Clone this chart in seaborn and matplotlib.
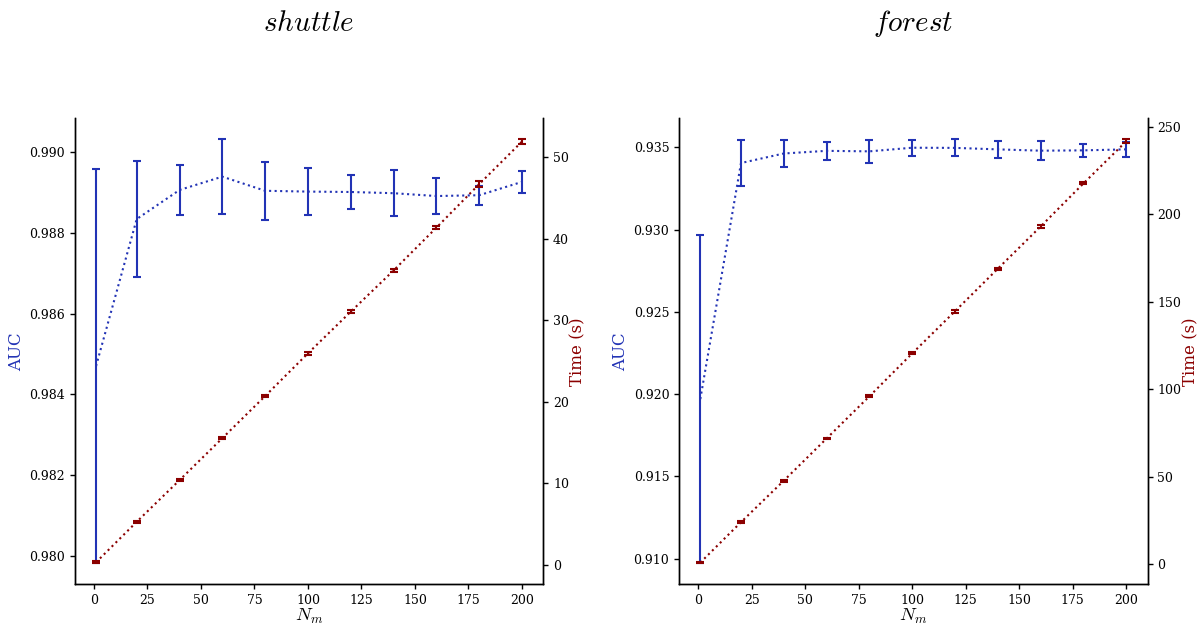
import matplotlib
matplotlib.use("Agg")
import matplotlib.pyplot as plt
import seaborn as sns
import pandas as pd

# Ensemble size sweep
n_models = [1, 20, 40, 60, 80, 100, 120, 140, 160, 180, 200]

# shuttle: AUC (mean, std) and training time in seconds (mean, std)
shuttle_auc = [0.98470, 0.98834, 0.98906, 0.98939, 0.98904, 0.98902,
               0.98901, 0.98898, 0.98891, 0.98893, 0.98926]
shuttle_auc_err = [0.00488, 0.00144, 0.00061, 0.00092, 0.00072, 0.00058,
                   0.00043, 0.00057, 0.00045, 0.00024, 0.00028]
shuttle_time = [0.3, 5.27, 10.38, 15.53, 20.7, 25.94, 31.05, 36.11,
                41.36, 46.7, 51.93]
shuttle_time_err = [0.1, 0.15, 0.15, 0.15, 0.15, 0.15, 0.15, 0.15,
                    0.15, 0.35, 0.25]

# forest: AUC (mean, std) and training time in seconds (mean, std)
forest_auc = [0.91970, 0.93404, 0.93462, 0.93478, 0.93475, 0.93497,
              0.93496, 0.93487, 0.93479, 0.93481, 0.93487]
forest_auc_err = [0.00997, 0.00139, 0.00081, 0.00053, 0.00068, 0.00048,
                  0.00051, 0.00050, 0.00058, 0.00040, 0.00046]
forest_time = [1.0, 24.1, 47.8, 71.9, 96.0, 120.5, 144.6, 168.9,
               193.0, 217.6, 241.7]
forest_time_err = [0.3, 0.6, 0.5, 0.5, 0.6, 0.6, 0.8, 0.6, 0.6, 0.6, 1.0]

datasets = ["shuttle", "forest"]

sns.set_theme(style="ticks")
plt.rcParams["font.family"] = ["DejaVu Serif"]
plt.rcParams["mathtext.fontset"] = "cm"
plt.rcParams["xtick.labelsize"] = 9
plt.rcParams["ytick.labelsize"] = 9
plt.rcParams["axes.linewidth"] = 1.0
for key in ["text.color", "axes.labelcolor", "xtick.color", "ytick.color",
            "axes.edgecolor"]:
    plt.rcParams[key] = "black"

AUC_COLOR = "#2233b5"
TIME_COLOR = "#8b0000"

fig = plt.figure(figsize=(11.98, 6.27), dpi=100)
positions = [[0.0624, 0.0681, 0.3911, 0.7432],
             [0.5668, 0.0681, 0.3911, 0.7432]]

series = {
    "shuttle": (shuttle_auc, shuttle_auc_err, shuttle_time, shuttle_time_err),
    "forest": (forest_auc, forest_auc_err, forest_time, forest_time_err),
}

for name, pos in zip(datasets, positions):
    auc, auc_err, t, t_err = series[name]
    df = pd.DataFrame({"N": n_models, "auc": auc, "auc_err": auc_err,
                       "time": t, "time_err": t_err})

    ax = fig.add_axes(pos)
    sns.lineplot(data=df, x="N", y="auc", ax=ax, color=AUC_COLOR,
                 linestyle=":", linewidth=1.5)
    ax.errorbar(df["N"], df["auc"], yerr=df["auc_err"], fmt="none",
                ecolor=AUC_COLOR, elinewidth=1.5, capsize=3, capthick=1.5)
    ax.set_ylabel("AUC", color=AUC_COLOR, fontsize=12, labelpad=3)
    ax.set_xlabel(r"$N_m$", fontsize=13.5, labelpad=0)
    ax.set_title(r"$%s$" % name, fontsize=21, y=1.17)

    ax2 = ax.twinx()
    sns.lineplot(data=df, x="N", y="time", ax=ax2, color=TIME_COLOR,
                 linestyle=":", linewidth=1.5)
    ax2.errorbar(df["N"], df["time"], yerr=df["time_err"], fmt="none",
                 ecolor=TIME_COLOR, elinewidth=1.5, capsize=3, capthick=1.5)
    ax2.set_ylabel("Time (s)", color=TIME_COLOR, fontsize=12, labelpad=0.5)

    ax.spines["top"].set_visible(False)
    ax2.spines["top"].set_visible(False)
    ax.tick_params(direction="out", length=3.5, width=1, pad=3.5)
    ax2.tick_params(direction="out", length=3.5, width=1, pad=3.5)

    if name == "shuttle":
        ax.set_yticks([0.980, 0.982, 0.984, 0.986, 0.988, 0.990])
        ax.set_yticklabels(["0.980", "0.982", "0.984", "0.986", "0.988", "0.990"])
    else:
        ax.set_yticks([0.910, 0.915, 0.920, 0.925, 0.930, 0.935])
        ax.set_yticklabels(["0.910", "0.915", "0.920", "0.925", "0.930", "0.935"])

fig.savefig("out.png", dpi=100)
